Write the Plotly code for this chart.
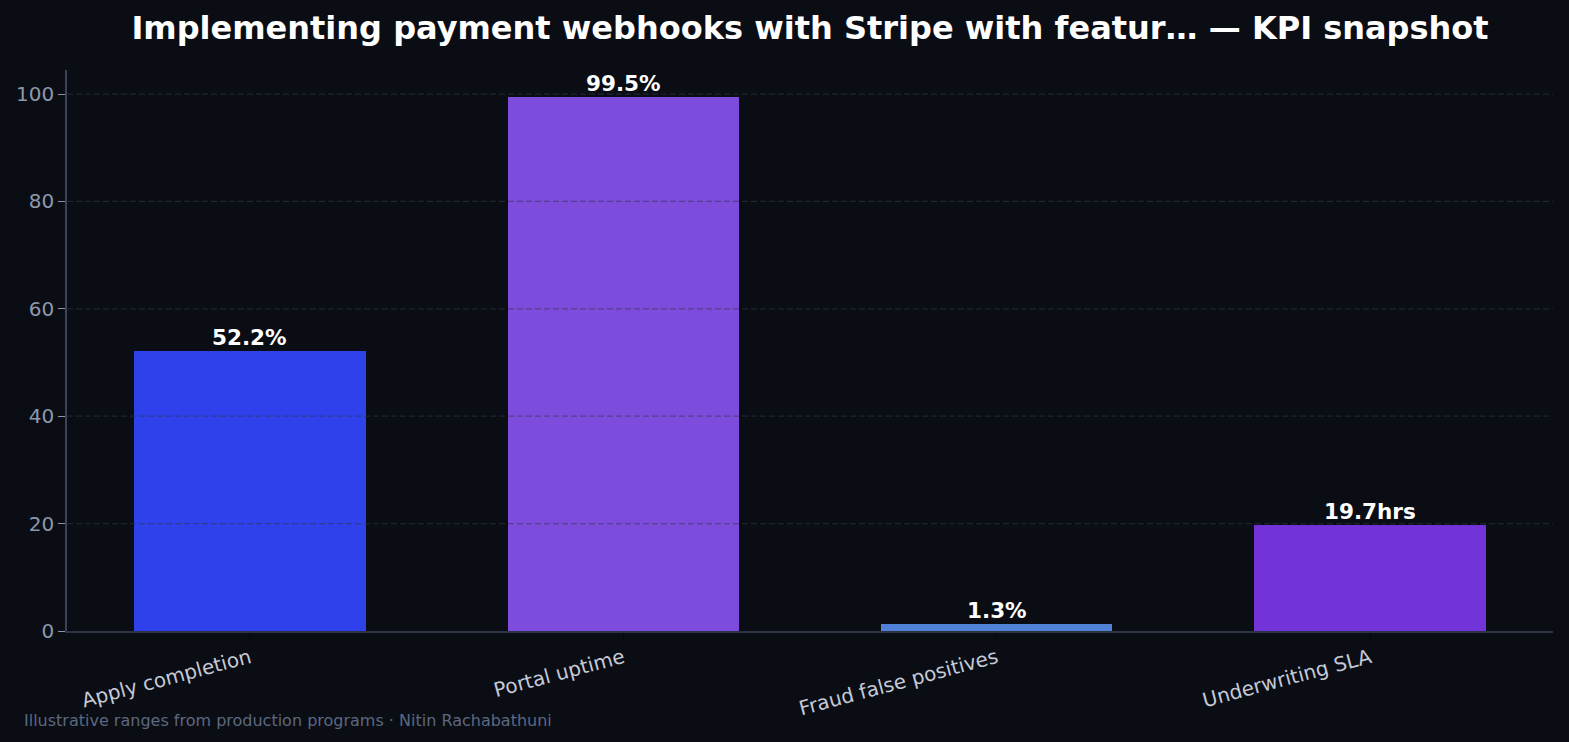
import plotly.graph_objects as go

categories = ["Apply completion", "Portal uptime", "Fraud false positives", "Underwriting SLA"]
values = [52.2, 99.5, 1.3, 19.7]
value_labels = ["52.2%", "99.5%", "1.3%", "19.7hrs"]
bar_colors = ["#2f41ea", "#7e4cdc", "#5082d8", "#7233d8"]
y_ticks = [0, 20, 40, 60, 80, 100]

title = "Implementing payment webhooks with Stripe with featur\u2026 \u2014 KPI snapshot"
footer = "Illustrative ranges from production programs \u00b7 Nitin Rachabathuni"

BG = "#0a0d14"
FONT = "DejaVu Sans"

xs = list(range(len(categories)))

fig = go.Figure()
fig.add_trace(go.Bar(
    x=xs, y=values, width=0.62,
    marker=dict(color=bar_colors, line=dict(width=0)),
    hoverinfo="skip",
))

shapes = []
for t in y_ticks[1:]:
    shapes.append(dict(type="line", xref="paper", x0=0, x1=1, yref="y", y0=t, y1=t,
                       line=dict(color="rgba(48,54,74,0.55)", width=1.2, dash="6px,3px"),
                       layer="above"))

annotations = []
for x, v, lab in zip(xs, values, value_labels):
    annotations.append(dict(x=x, y=v, xref="x", yref="y", text="<b>" + lab + "</b>",
                            showarrow=False, xanchor="center", yanchor="bottom", yshift=-1,
                            font=dict(family=FONT, size=21.5, color="#ffffff")))
annotations.append(dict(text=footer, xref="paper", yref="paper", x=(22 - 67) / 1486, y=(22 - 111) / 561,
                        xanchor="left", yanchor="middle", showarrow=False,
                        font=dict(family=FONT, size=16, color="#5d6880")))

fig.update_layout(
    width=1569, height=742,
    paper_bgcolor=BG, plot_bgcolor=BG,
    margin=dict(l=67, r=16, t=70, b=111),
    showlegend=False,
    bargap=0,
    title=dict(text="<b>" + title + "</b>", x=0.5, xref="paper", xanchor="center",
               y=0.962, yref="container", yanchor="middle",
               font=dict(family=FONT, size=32, color="#ffffff")),
    xaxis=dict(
        range=[-0.49, 3.49], tickmode="array", tickvals=xs,
        ticktext=categories, tickangle=-15, showgrid=False, zeroline=False,
        showline=True, linecolor="#2c3444", linewidth=1.5,
        ticks="outside", ticklen=6, tickcolor="#05070b",
        tickfont=dict(family=FONT, size=20, color="#c5cad6"),
    ),
    yaxis=dict(
        range=[0, 104.475], tickmode="array", tickvals=y_ticks,
        showgrid=False, zeroline=False,
        showline=True, linecolor="#3a4456", linewidth=1.5,
        ticks="outside", ticklen=7, tickcolor="#8b95a8",
        tickfont=dict(family=FONT, size=20, color="#8d98ac"),
    ),
    shapes=shapes,
    annotations=annotations,
)

fig.write_html("out.html")
